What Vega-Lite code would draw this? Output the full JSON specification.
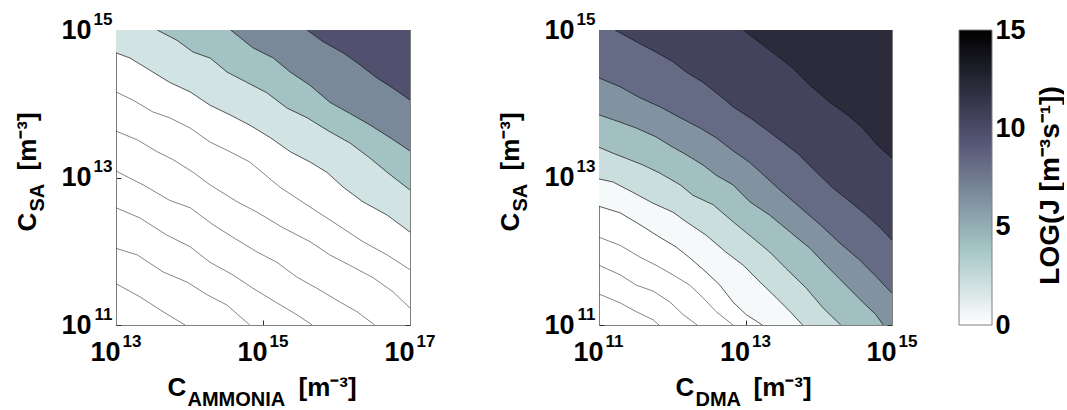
{
  "$schema": "https://vega.github.io/schema/vega-lite/v6.json",
  "background": "white",
  "padding": {"left": 14, "top": 10, "right": 0, "bottom": 0},
  "config": {
    "view": {"stroke": null},
    "font": "Liberation Sans",
    "axis": {
      "labelFont": "Liberation Sans", "titleFont": "Liberation Sans",
      "labelFontWeight": "bold", "titleFontWeight": "bold",
      "labelColor": "#000000", "titleColor": "#000000",
      "grid": false, "labelFlush": false, "labelOverlap": false, "labelBound": false,
      "zindex": 1, "titleAlign": "left", "titleBaseline": "alphabetic",
      "domainColor": "#808080", "domainWidth": 1, "tickColor": "#303030", "tickWidth": 1
    }
  },
  "datasets": {
    "amm": [
      {"id":"L4","z":1.9,"lx":13.00,"ly":14.69},{"id":"L4","z":1.9,"lx":13.19,"ly":14.62},{"id":"L4","z":1.9,"lx":13.42,"ly":14.48},{"id":"L4","z":1.9,"lx":13.73,"ly":14.29},{"id":"L4","z":1.9,"lx":14.01,"ly":14.16},{"id":"L4","z":1.9,"lx":14.28,"ly":13.98},{"id":"L4","z":1.9,"lx":14.55,"ly":13.85},{"id":"L4","z":1.9,"lx":14.82,"ly":13.71},{"id":"L4","z":1.9,"lx":15.10,"ly":13.54},{"id":"L4","z":1.9,"lx":15.37,"ly":13.35},{"id":"L4","z":1.9,"lx":15.64,"ly":13.21},{"id":"L4","z":1.9,"lx":15.87,"ly":13.07},{"id":"L4","z":1.9,"lx":16.09,"ly":12.87},{"id":"L4","z":1.9,"lx":16.36,"ly":12.67},{"id":"L4","z":1.9,"lx":16.69,"ly":12.49},{"id":"L4","z":1.9,"lx":17.00,"ly":12.26},
      {"id":"L3","z":4.0,"lx":13.56,"ly":15.00},{"id":"L3","z":4.0,"lx":13.83,"ly":14.86},{"id":"L3","z":4.0,"lx":14.05,"ly":14.70},{"id":"L3","z":4.0,"lx":14.28,"ly":14.62},{"id":"L3","z":4.0,"lx":14.51,"ly":14.43},{"id":"L3","z":4.0,"lx":14.78,"ly":14.29},{"id":"L3","z":4.0,"lx":15.05,"ly":14.15},{"id":"L3","z":4.0,"lx":15.33,"ly":13.94},{"id":"L3","z":4.0,"lx":15.60,"ly":13.81},{"id":"L3","z":4.0,"lx":15.91,"ly":13.62},{"id":"L3","z":4.0,"lx":16.18,"ly":13.47},{"id":"L3","z":4.0,"lx":16.46,"ly":13.26},{"id":"L3","z":4.0,"lx":16.69,"ly":13.07},{"id":"L3","z":4.0,"lx":17.00,"ly":12.83},
      {"id":"L2","z":6.8,"lx":14.56,"ly":15.00},{"id":"L2","z":6.8,"lx":14.86,"ly":14.76},{"id":"L2","z":6.8,"lx":15.14,"ly":14.62},{"id":"L2","z":6.8,"lx":15.37,"ly":14.43},{"id":"L2","z":6.8,"lx":15.64,"ly":14.25},{"id":"L2","z":6.8,"lx":15.91,"ly":14.02},{"id":"L2","z":6.8,"lx":16.18,"ly":13.87},{"id":"L2","z":6.8,"lx":16.46,"ly":13.71},{"id":"L2","z":6.8,"lx":16.73,"ly":13.54},{"id":"L2","z":6.8,"lx":17.00,"ly":13.36},
      {"id":"L1","z":9.6,"lx":15.60,"ly":15.00},{"id":"L1","z":9.6,"lx":15.82,"ly":14.84},{"id":"L1","z":9.6,"lx":16.09,"ly":14.69},{"id":"L1","z":9.6,"lx":16.29,"ly":14.55},{"id":"L1","z":9.6,"lx":16.55,"ly":14.35},{"id":"L1","z":9.6,"lx":16.77,"ly":14.21},{"id":"L1","z":9.6,"lx":17.00,"ly":14.05},
      {"id":"L5","z":0,"lx":13.00,"ly":14.16},{"id":"L5","z":0,"lx":13.23,"ly":14.05},{"id":"L5","z":0,"lx":13.50,"ly":13.89},{"id":"L5","z":0,"lx":13.73,"ly":13.81},{"id":"L5","z":0,"lx":14.01,"ly":13.67},{"id":"L5","z":0,"lx":14.28,"ly":13.48},{"id":"L5","z":0,"lx":14.55,"ly":13.35},{"id":"L5","z":0,"lx":14.82,"ly":13.21},{"id":"L5","z":0,"lx":15.23,"ly":12.87},{"id":"L5","z":0,"lx":15.64,"ly":12.60},{"id":"L5","z":0,"lx":16.01,"ly":12.36},{"id":"L5","z":0,"lx":16.36,"ly":12.13},{"id":"L5","z":0,"lx":16.69,"ly":11.95},{"id":"L5","z":0,"lx":17.00,"ly":11.75},
      {"id":"L6","z":0,"lx":13.00,"ly":13.63},{"id":"L6","z":0,"lx":13.29,"ly":13.51},{"id":"L6","z":0,"lx":13.56,"ly":13.35},{"id":"L6","z":0,"lx":13.78,"ly":13.24},{"id":"L6","z":0,"lx":14.05,"ly":13.07},{"id":"L6","z":0,"lx":14.28,"ly":12.90},{"id":"L6","z":0,"lx":14.65,"ly":12.67},{"id":"L6","z":0,"lx":14.92,"ly":12.53},{"id":"L6","z":0,"lx":15.27,"ly":12.32},{"id":"L6","z":0,"lx":15.64,"ly":12.13},{"id":"L6","z":0,"lx":15.91,"ly":11.95},{"id":"L6","z":0,"lx":16.18,"ly":11.81},{"id":"L6","z":0,"lx":16.50,"ly":11.64},{"id":"L6","z":0,"lx":16.77,"ly":11.45},{"id":"L6","z":0,"lx":17.00,"ly":11.23},
      {"id":"L7","z":0,"lx":13.00,"ly":13.09},{"id":"L7","z":0,"lx":13.19,"ly":12.99},{"id":"L7","z":0,"lx":13.37,"ly":12.90},{"id":"L7","z":0,"lx":13.73,"ly":12.69},{"id":"L7","z":0,"lx":14.01,"ly":12.59},{"id":"L7","z":0,"lx":14.32,"ly":12.36},{"id":"L7","z":0,"lx":14.59,"ly":12.19},{"id":"L7","z":0,"lx":14.92,"ly":11.99},{"id":"L7","z":0,"lx":15.19,"ly":11.85},{"id":"L7","z":0,"lx":15.46,"ly":11.65},{"id":"L7","z":0,"lx":15.73,"ly":11.50},{"id":"L7","z":0,"lx":16.05,"ly":11.31},{"id":"L7","z":0,"lx":16.28,"ly":11.18},{"id":"L7","z":0,"lx":16.52,"ly":11.00},
      {"id":"L8","z":0,"lx":13.00,"ly":12.59},{"id":"L8","z":0,"lx":13.33,"ly":12.45},{"id":"L8","z":0,"lx":13.69,"ly":12.22},{"id":"L8","z":0,"lx":14.01,"ly":12.06},{"id":"L8","z":0,"lx":14.28,"ly":11.85},{"id":"L8","z":0,"lx":14.59,"ly":11.68},{"id":"L8","z":0,"lx":14.86,"ly":11.50},{"id":"L8","z":0,"lx":15.19,"ly":11.30},{"id":"L8","z":0,"lx":15.46,"ly":11.14},{"id":"L8","z":0,"lx":15.67,"ly":11.00},
      {"id":"L9","z":0,"lx":13.00,"ly":12.04},{"id":"L9","z":0,"lx":13.29,"ly":11.95},{"id":"L9","z":0,"lx":13.64,"ly":11.72},{"id":"L9","z":0,"lx":13.97,"ly":11.58},{"id":"L9","z":0,"lx":14.24,"ly":11.41},{"id":"L9","z":0,"lx":14.51,"ly":11.27},{"id":"L9","z":0,"lx":14.82,"ly":11.00},
      {"id":"L10","z":0,"lx":13.00,"ly":11.56},{"id":"L10","z":0,"lx":13.33,"ly":11.38},{"id":"L10","z":0,"lx":13.64,"ly":11.18},{"id":"L10","z":0,"lx":13.94,"ly":11.00}
    ],
    "dma": [
      {"id":"R7","z":0.4,"lx":11.00,"ly":12.61},{"id":"R7","z":0.4,"lx":11.29,"ly":12.52},{"id":"R7","z":0.4,"lx":11.56,"ly":12.36},{"id":"R7","z":0.4,"lx":11.83,"ly":12.19},{"id":"R7","z":0.4,"lx":12.05,"ly":12.06},{"id":"R7","z":0.4,"lx":12.24,"ly":11.91},{"id":"R7","z":0.4,"lx":12.46,"ly":11.72},{"id":"R7","z":0.4,"lx":12.65,"ly":11.54},{"id":"R7","z":0.4,"lx":12.83,"ly":11.31},{"id":"R7","z":0.4,"lx":13.01,"ly":11.14},{"id":"R7","z":0.4,"lx":13.23,"ly":11.00},{"id":"R7","z":0.4,"lx":15.00,"ly":11.00,"e":1},
      {"id":"R6","z":2.2,"lx":11.00,"ly":12.98},{"id":"R6","z":2.2,"lx":11.19,"ly":12.94},{"id":"R6","z":2.2,"lx":11.46,"ly":12.80},{"id":"R6","z":2.2,"lx":11.74,"ly":12.65},{"id":"R6","z":2.2,"lx":12.01,"ly":12.53},{"id":"R6","z":2.2,"lx":12.19,"ly":12.40},{"id":"R6","z":2.2,"lx":12.46,"ly":12.22},{"id":"R6","z":2.2,"lx":12.73,"ly":11.99},{"id":"R6","z":2.2,"lx":12.97,"ly":11.81},{"id":"R6","z":2.2,"lx":13.20,"ly":11.58},{"id":"R6","z":2.2,"lx":13.42,"ly":11.37},{"id":"R6","z":2.2,"lx":13.61,"ly":11.18},{"id":"R6","z":2.2,"lx":13.78,"ly":11.00},{"id":"R6","z":2.2,"lx":15.00,"ly":11.00,"e":1},
      {"id":"R5","z":4.1,"lx":11.00,"ly":13.41},{"id":"R5","z":4.1,"lx":11.19,"ly":13.33},{"id":"R5","z":4.1,"lx":11.37,"ly":13.26},{"id":"R5","z":4.1,"lx":11.60,"ly":13.17},{"id":"R5","z":4.1,"lx":11.83,"ly":13.06},{"id":"R5","z":4.1,"lx":12.11,"ly":12.90},{"id":"R5","z":4.1,"lx":12.28,"ly":12.76},{"id":"R5","z":4.1,"lx":12.56,"ly":12.63},{"id":"R5","z":4.1,"lx":12.83,"ly":12.40},{"id":"R5","z":4.1,"lx":13.10,"ly":12.18},{"id":"R5","z":4.1,"lx":13.33,"ly":11.99},{"id":"R5","z":4.1,"lx":13.55,"ly":11.77},{"id":"R5","z":4.1,"lx":13.83,"ly":11.50},{"id":"R5","z":4.1,"lx":14.06,"ly":11.23},{"id":"R5","z":4.1,"lx":14.30,"ly":11.00},{"id":"R5","z":4.1,"lx":15.00,"ly":11.00,"e":1},
      {"id":"R4","z":6.3,"lx":11.00,"ly":13.85},{"id":"R4","z":6.3,"lx":11.29,"ly":13.75},{"id":"R4","z":6.3,"lx":11.51,"ly":13.67},{"id":"R4","z":6.3,"lx":11.78,"ly":13.55},{"id":"R4","z":6.3,"lx":12.01,"ly":13.41},{"id":"R4","z":6.3,"lx":12.19,"ly":13.31},{"id":"R4","z":6.3,"lx":12.42,"ly":13.17},{"id":"R4","z":6.3,"lx":12.60,"ly":13.03},{"id":"R4","z":6.3,"lx":12.83,"ly":12.90},{"id":"R4","z":6.3,"lx":13.06,"ly":12.67},{"id":"R4","z":6.3,"lx":13.33,"ly":12.49},{"id":"R4","z":6.3,"lx":13.61,"ly":12.26},{"id":"R4","z":6.3,"lx":13.88,"ly":12.04},{"id":"R4","z":6.3,"lx":14.10,"ly":11.81},{"id":"R4","z":6.3,"lx":14.37,"ly":11.54},{"id":"R4","z":6.3,"lx":14.60,"ly":11.31},{"id":"R4","z":6.3,"lx":14.78,"ly":11.14},{"id":"R4","z":6.3,"lx":14.88,"ly":11.00},{"id":"R4","z":6.3,"lx":15.00,"ly":11.00,"e":1},
      {"id":"R3","z":8.25,"lx":11.00,"ly":14.35},{"id":"R3","z":8.25,"lx":11.29,"ly":14.23},{"id":"R3","z":8.25,"lx":11.56,"ly":14.08},{"id":"R3","z":8.25,"lx":11.83,"ly":13.96},{"id":"R3","z":8.25,"lx":12.11,"ly":13.81},{"id":"R3","z":8.25,"lx":12.38,"ly":13.67},{"id":"R3","z":8.25,"lx":12.60,"ly":13.54},{"id":"R3","z":8.25,"lx":12.82,"ly":13.37},{"id":"R3","z":8.25,"lx":13.05,"ly":13.21},{"id":"R3","z":8.25,"lx":13.23,"ly":13.05},{"id":"R3","z":8.25,"lx":13.47,"ly":12.83},{"id":"R3","z":8.25,"lx":13.74,"ly":12.60},{"id":"R3","z":8.25,"lx":14.02,"ly":12.36},{"id":"R3","z":8.25,"lx":14.29,"ly":12.11},{"id":"R3","z":8.25,"lx":14.56,"ly":11.88},{"id":"R3","z":8.25,"lx":14.78,"ly":11.66},{"id":"R3","z":8.25,"lx":15.00,"ly":11.43},
      {"id":"R2","z":10.5,"lx":11.22,"ly":15.00},{"id":"R2","z":10.5,"lx":11.51,"ly":14.84},{"id":"R2","z":10.5,"lx":11.78,"ly":14.70},{"id":"R2","z":10.5,"lx":12.01,"ly":14.57},{"id":"R2","z":10.5,"lx":12.19,"ly":14.43},{"id":"R2","z":10.5,"lx":12.42,"ly":14.29},{"id":"R2","z":10.5,"lx":12.65,"ly":14.11},{"id":"R2","z":10.5,"lx":12.83,"ly":13.96},{"id":"R2","z":10.5,"lx":13.09,"ly":13.79},{"id":"R2","z":10.5,"lx":13.31,"ly":13.63},{"id":"R2","z":10.5,"lx":13.51,"ly":13.48},{"id":"R2","z":10.5,"lx":13.72,"ly":13.32},{"id":"R2","z":10.5,"lx":13.92,"ly":13.12},{"id":"R2","z":10.5,"lx":14.19,"ly":12.86},{"id":"R2","z":10.5,"lx":14.43,"ly":12.67},{"id":"R2","z":10.5,"lx":14.65,"ly":12.49},{"id":"R2","z":10.5,"lx":14.84,"ly":12.32},{"id":"R2","z":10.5,"lx":15.00,"ly":12.15},
      {"id":"R1","z":12.15,"lx":12.97,"ly":15.00},{"id":"R1","z":12.15,"lx":13.38,"ly":14.69},{"id":"R1","z":12.15,"lx":13.65,"ly":14.48},{"id":"R1","z":12.15,"lx":13.88,"ly":14.25},{"id":"R1","z":12.15,"lx":14.15,"ly":14.02},{"id":"R1","z":12.15,"lx":14.39,"ly":13.85},{"id":"R1","z":12.15,"lx":14.60,"ly":13.67},{"id":"R1","z":12.15,"lx":14.80,"ly":13.44},{"id":"R1","z":12.15,"lx":15.00,"ly":13.26},
      {"id":"R8","z":0,"lx":11.00,"ly":12.19},{"id":"R8","z":0,"lx":11.29,"ly":12.08},{"id":"R8","z":0,"lx":11.56,"ly":11.92},{"id":"R8","z":0,"lx":11.78,"ly":11.81},{"id":"R8","z":0,"lx":12.01,"ly":11.68},{"id":"R8","z":0,"lx":12.24,"ly":11.54},{"id":"R8","z":0,"lx":12.42,"ly":11.37},{"id":"R8","z":0,"lx":12.60,"ly":11.18},{"id":"R8","z":0,"lx":12.83,"ly":11.00},
      {"id":"R9","z":0,"lx":11.00,"ly":11.81},{"id":"R9","z":0,"lx":11.29,"ly":11.68},{"id":"R9","z":0,"lx":11.51,"ly":11.54},{"id":"R9","z":0,"lx":11.74,"ly":11.46},{"id":"R9","z":0,"lx":11.97,"ly":11.31},{"id":"R9","z":0,"lx":12.15,"ly":11.14},{"id":"R9","z":0,"lx":12.34,"ly":11.00},
      {"id":"R10","z":0,"lx":11.00,"ly":11.42},{"id":"R10","z":0,"lx":11.29,"ly":11.30},{"id":"R10","z":0,"lx":11.51,"ly":11.18},{"id":"R10","z":0,"lx":11.74,"ly":11.07},{"id":"R10","z":0,"lx":11.82,"ly":11.00}
    ]
  },
  "hconcat": [
    {
      "width": 294, "height": 295,
      "data": {"name": "amm"},
      "layer": [
        {
          "transform": [{"filter": "datum.z > 0"}],
          "mark": {"type": "area", "orient": "vertical", "interpolate": "linear", "clip": true},
          "encoding": {
            "x": {"field": "lx", "type": "quantitative", "scale": {"domain": [13, 17], "nice": false, "zero": false},
                  "axis": {"orient": "bottom", "values": [13, 15, 17], "labelExpr": "'10'", "labelAlign": "right", "labelOffset": 4, "labelBaseline": "alphabetic", "labelPadding": 40, "labelFontSize": 27, "tickSize": -5, "domain": true, "title": "C", "titleX": 51, "titleY": 70, "titleFontSize": 26, "titleAngle": 0}},
            "y": {"field": "ly", "type": "quantitative", "stack": null, "scale": {"domain": [11, 15], "nice": false, "zero": false},
                  "axis": {"orient": "left", "values": [11, 13, 15], "labelExpr": "'10'", "labelAlign": "right", "labelBaseline": "middle", "labelPadding": 30, "labelFontSize": 27, "tickSize": -5, "domain": true, "title": "C", "titleX": -81, "titleY": 201, "titleAngle": -90, "titleFontSize": 26}},
            "y2": {"datum": 15},
            "color": {"field": "z", "type": "quantitative", "legend": null,
                      "scale": {"domain": [0, 1.875, 3.75, 5.625, 7.5, 9.375, 11.25, 13.125, 15], "range": ["#ffffff", "#d3e3e3", "#a7c7c7", "#8ba1ab", "#707a8f", "#545474", "#38384d", "#1c1c27", "#000000"], "interpolate": "rgb"}},
            "detail": {"field": "id"}
          }
        },
        {
          "transform": [{"filter": "datum.z > 0 && datum.e != 1"}],
          "mark": {"type": "line", "color": "#111111", "strokeWidth": 0.7, "clip": true},
          "encoding": {
            "x": {"field": "lx", "type": "quantitative",
                  "axis": {"orient": "bottom", "values": [13, 15, 17], "labelExpr": "'' + datum.value", "labelAlign": "left", "labelOffset": 6, "labelBaseline": "alphabetic", "labelPadding": 21, "labelFontSize": 17, "ticks": false, "domain": false, "title": "AMMONIA", "titleX": 71, "titleY": 80, "titleFontSize": 20, "titleAngle": 0}},
            "y": {"field": "ly", "type": "quantitative",
                  "axis": {"orient": "left", "values": [11, 13, 15], "labelExpr": "'' + datum.value", "labelAlign": "right", "labelBaseline": "middle", "labelOffset": -11, "labelPadding": 4, "labelFontSize": 17, "ticks": false, "domain": false, "title": "SA", "titleX": -73, "titleY": 181, "titleAngle": -90, "titleFontSize": 20}},
            "detail": {"field": "id"}
          }
        },
        {
          "transform": [{"filter": "datum.z == 0"}],
          "mark": {"type": "line", "color": "#333333", "strokeWidth": 0.6, "clip": true},
          "encoding": {
            "x": {"field": "lx", "type": "quantitative",
                  "axis": {"orient": "top", "values": [13, 15, 17], "labels": false, "tickSize": -5, "domain": true, "title": "[m\u207b\u00b3]", "titleX": 182, "titleY": 365, "titleFontSize": 26, "titleAngle": 0}},
            "y": {"field": "ly", "type": "quantitative",
                  "axis": {"orient": "right", "values": [11, 13, 15], "labels": false, "tickSize": -5, "domain": true, "title": "[m\u207b\u00b3]", "titleX": -375, "titleY": 140, "titleAngle": -90, "titleFontSize": 26}},
            "detail": {"field": "id"}
          }
        }
      ],
      "resolve": {"axis": {"x": "independent", "y": "independent"}}
    },
    {
      "width": 55, "height": 295,
      "data": {"values": [{"s": 0}]},
      "mark": {"type": "text", "text": ""},
      "encoding": {}
    },
    {
      "width": 293, "height": 295,
      "data": {"name": "dma"},
      "layer": [
        {
          "transform": [{"filter": "datum.z > 0"}],
          "mark": {"type": "area", "orient": "vertical", "interpolate": "linear", "clip": true},
          "encoding": {
            "x": {"field": "lx", "type": "quantitative", "scale": {"domain": [11, 15], "nice": false, "zero": false},
                  "axis": {"orient": "bottom", "values": [11, 13, 15], "labelExpr": "'10'", "labelAlign": "right", "labelOffset": 4, "labelBaseline": "alphabetic", "labelPadding": 40, "labelFontSize": 27, "tickSize": -5, "domain": true, "title": "C", "titleX": 76, "titleY": 70, "titleFontSize": 26, "titleAngle": 0}},
            "y": {"field": "ly", "type": "quantitative", "stack": null, "scale": {"domain": [11, 15], "nice": false, "zero": false},
                  "axis": {"orient": "left", "values": [11, 13, 15], "labelExpr": "'10'", "labelAlign": "right", "labelBaseline": "middle", "labelPadding": 30, "labelFontSize": 27, "tickSize": -5, "domain": true, "title": "C", "titleX": -81, "titleY": 201, "titleAngle": -90, "titleFontSize": 26}},
            "y2": {"datum": 15},
            "color": {"field": "z", "type": "quantitative", "legend": null,
                      "scale": {"domain": [0, 1.875, 3.75, 5.625, 7.5, 9.375, 11.25, 13.125, 15], "range": ["#ffffff", "#d3e3e3", "#a7c7c7", "#8ba1ab", "#707a8f", "#545474", "#38384d", "#1c1c27", "#000000"], "interpolate": "rgb"}},
            "detail": {"field": "id"}
          }
        },
        {
          "transform": [{"filter": "datum.z > 0 && datum.e != 1"}],
          "mark": {"type": "line", "color": "#111111", "strokeWidth": 0.7, "clip": true},
          "encoding": {
            "x": {"field": "lx", "type": "quantitative",
                  "axis": {"orient": "bottom", "values": [11, 13, 15], "labelExpr": "'' + datum.value", "labelAlign": "left", "labelOffset": 6, "labelBaseline": "alphabetic", "labelPadding": 21, "labelFontSize": 17, "ticks": false, "domain": false, "title": "DMA", "titleX": 96, "titleY": 80, "titleFontSize": 20, "titleAngle": 0}},
            "y": {"field": "ly", "type": "quantitative",
                  "axis": {"orient": "left", "values": [11, 13, 15], "labelExpr": "'' + datum.value", "labelAlign": "right", "labelBaseline": "middle", "labelOffset": -11, "labelPadding": 4, "labelFontSize": 17, "ticks": false, "domain": false, "title": "SA", "titleX": -73, "titleY": 181, "titleAngle": -90, "titleFontSize": 20}},
            "detail": {"field": "id"}
          }
        },
        {
          "transform": [{"filter": "datum.z == 0"}],
          "mark": {"type": "line", "color": "#333333", "strokeWidth": 0.6, "clip": true},
          "encoding": {
            "x": {"field": "lx", "type": "quantitative",
                  "axis": {"orient": "top", "values": [11, 13, 15], "labels": false, "tickSize": -5, "domain": true, "title": "[m\u207b\u00b3]", "titleX": 154, "titleY": 365, "titleFontSize": 26, "titleAngle": 0}},
            "y": {"field": "ly", "type": "quantitative",
                  "axis": {"orient": "right", "values": [11, 13, 15], "labels": false, "tickSize": -5, "domain": true, "title": "[m\u207b\u00b3]", "titleX": -374, "titleY": 140, "titleAngle": -90, "titleFontSize": 26}},
            "detail": {"field": "id"}
          }
        }
      ],
      "resolve": {"axis": {"x": "independent", "y": "independent"}}
    },
    {
      "width": 33, "height": 295,
      "data": {"values": [{"lo": 0, "hi": 15}]},
      "layer": [
        {
          "mark": {"type": "rect", "fill": {"gradient": "linear", "x1": 0, "y1": 1, "x2": 0, "y2": 0, "stops": [
            {"offset": 0, "color": "#ffffff"}, {"offset": 0.125, "color": "#d3e3e3"}, {"offset": 0.25, "color": "#a7c7c7"},
            {"offset": 0.375, "color": "#8ba1ab"}, {"offset": 0.5, "color": "#707a8f"}, {"offset": 0.625, "color": "#545474"},
            {"offset": 0.75, "color": "#38384d"}, {"offset": 0.875, "color": "#1c1c27"}, {"offset": 1, "color": "#000000"}]}},
          "encoding": {
            "x": {"datum": 0, "type": "quantitative", "scale": {"domain": [0, 1], "nice": false, "zero": false}, "axis": null},
            "x2": {"datum": 1},
            "y": {"field": "lo", "type": "quantitative", "scale": {"domain": [0, 15], "nice": false, "zero": false},
                  "axis": {"orient": "left", "values": [5, 10], "labels": false, "tickSize": -4, "domain": false, "title": null}},
            "y2": {"field": "hi"}
          }
        },
        {
          "mark": {"type": "rect", "fill": "transparent", "stroke": "#808080", "strokeWidth": 1},
          "encoding": {
            "x": {"datum": 0, "type": "quantitative", "axis": null},
            "x2": {"datum": 1},
            "y": {"field": "lo", "type": "quantitative",
                  "axis": {"orient": "right", "values": [0, 5, 10, 15], "labelFontSize": 27, "labelPadding": 3, "labelAlign": "left", "labelBaseline": "middle", "ticks": false, "domain": false,
                           "title": "LOG(J [m\u207b\u00b3s\u207b\u00b9])", "titleAngle": -90, "titleX": 66, "titleY": 155, "titleAlign": "center", "titleBaseline": "alphabetic", "titleFontSize": 28}},
            "y2": {"field": "hi"}
          }
        }
      ],
      "resolve": {"axis": {"y": "independent"}}
    }
  ],
  "spacing": 67,
  "bounds": "flush"
}
